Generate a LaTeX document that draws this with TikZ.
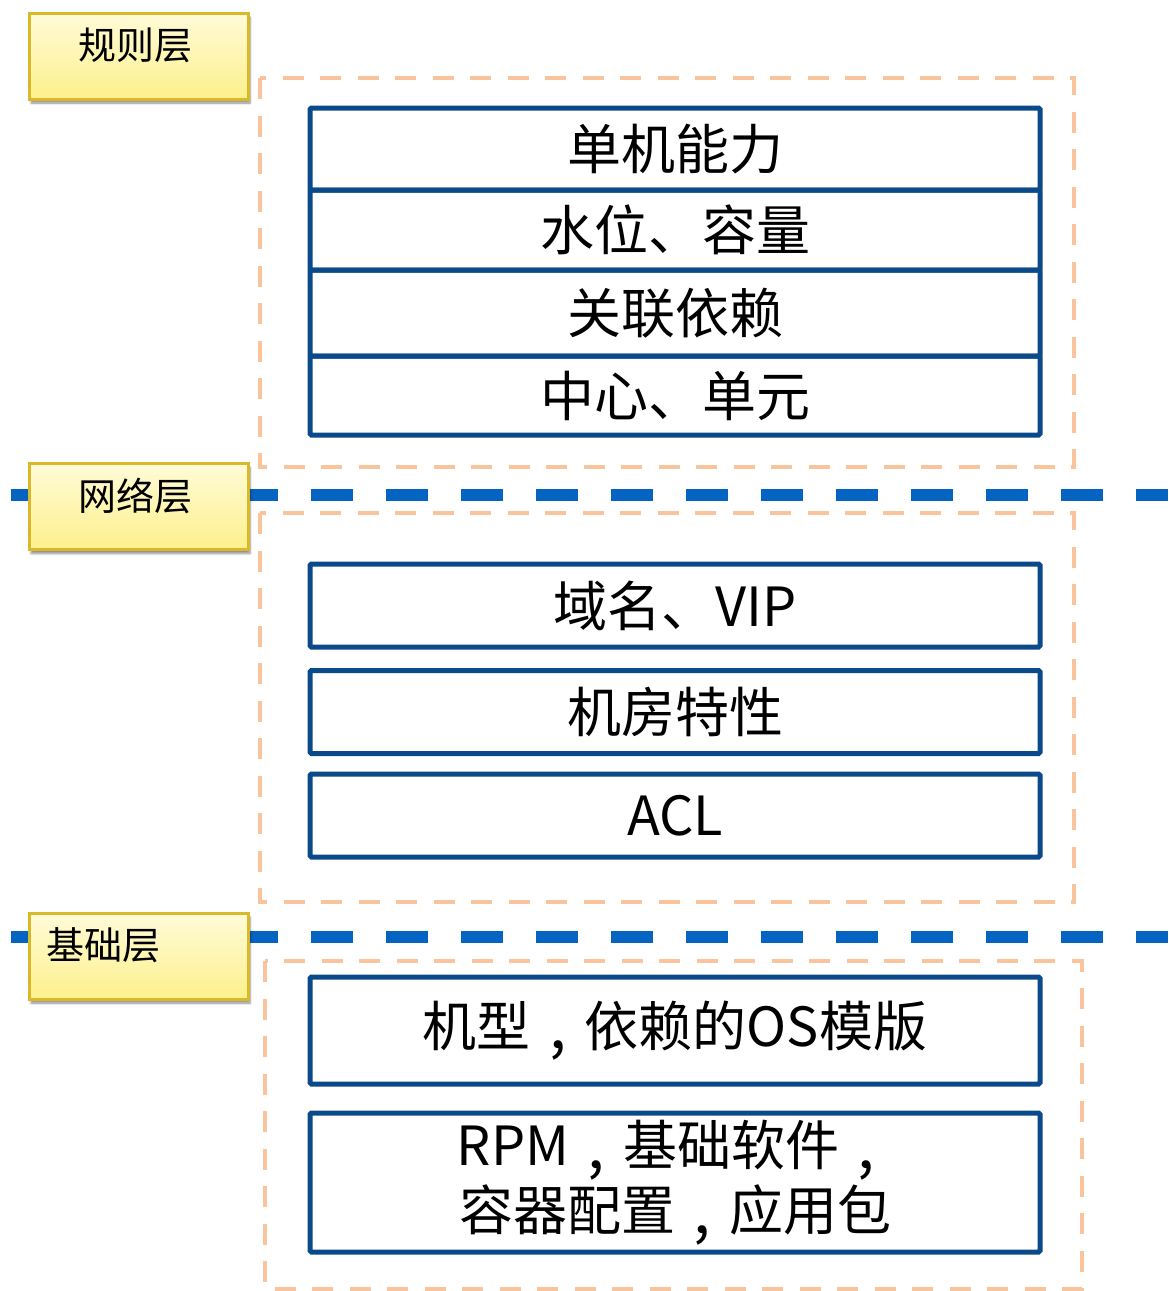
\documentclass[tikz,border=0pt]{standalone}
\usepackage{fontspec}
\setmainfont{Noto Sans CJK SC}
\usetikzlibrary{shadows.blur}
\definecolor{boxblue}{HTML}{0B4A8A}
\definecolor{lineblue}{HTML}{0563C1}
\definecolor{orangedash}{HTML}{F9C49C}
\definecolor{goldline}{HTML}{D9B92A}
\definecolor{ytop}{HTML}{FFFBD8}
\definecolor{ybot}{HTML}{FDF08C}
\newcommand\fwcomma{\makebox[1em][c]{\raisebox{-0.05em}{\scalebox{1.15}{,}}}}
\tikzset{
  layerbox/.style={draw=goldline, line width=3pt, top color=ytop, bottom color=ybot,
    minimum width=219pt, minimum height=86pt, inner sep=0pt, outer sep=0pt,
    blur shadow={shadow xshift=2pt, shadow yshift=-4pt, shadow blur steps=6, shadow opacity=45}},
  layertext/.style={font=\fontsize{38}{42}\selectfont, inner sep=0pt},
  itembox/.style={draw=boxblue, line width=5pt, rounded corners=1.5pt, minimum width=730pt,
    inner sep=0pt, outer sep=0pt, font=\fontsize{54}{65}\selectfont, align=center},
  groupbox/.style={draw=orangedash, line width=4.5pt, dash pattern=on 21pt off 16.5pt},
  sepline/.style={draw=lineblue, line width=11.5pt, dash pattern=on 42pt off 33pt}
}
\begin{document}
\begin{tikzpicture}[x=1pt,y=-1pt]
\useasboundingbox (0,0) rectangle (1168,1291);
% orange dashed group frames
\draw[groupbox] (260,78) rectangle (1074,467);
\draw[groupbox] (260,513) rectangle (1074,902);
\draw[groupbox] (265,961) rectangle (1082,1289);
% blue separator lines
\coordinate (s1a) at (11,495); \coordinate (s1b) at (1168,495);
\coordinate (s2a) at (11,937); \coordinate (s2b) at (1168,937);
\draw[sepline] (s1a) -- (s1b);
\draw[sepline] (s2a) -- (s2b);
% layer labels
\node[layerbox] (l1) at (138.5,56) {};
\node[layertext] (t1) at (135,45) {规则层};
\node[layerbox] (l2) at (138.5,506.5) {};
\node[layertext] (t2) at (135,496) {网络层};
\node[layerbox] (l3) at (138.5,956) {};
\node[layertext] (t3) at (103,945) {基础层};
% rule layer items
\node[itembox, minimum height=82pt] (r1) at (675,149) {单机能力};
\node[itembox, minimum height=80pt] (r2) at (675,230) {水位、容量};
\node[itembox, minimum height=86pt] (r3) at (675,313) {关联依赖};
\node[itembox, minimum height=79pt] (r4) at (675,395.5) {中心、单元};
% network layer items
\node[itembox, minimum height=83pt] (n1) at (675,605.5) {域名、VIP};
\node[itembox, minimum height=83pt] (n2) at (675,712) {机房特性};
\node[itembox, minimum height=83pt] (n3) at (675,815.5) {ACL};
% base layer items
\node[itembox, minimum height=107pt] (b1) at (675,1030.5) {机型\fwcomma 依赖的OS模版};
\node[itembox, minimum height=139pt] (b2) at (675,1182.5) {RPM\fwcomma 基础软件\fwcomma\\容器配置\fwcomma 应用包};
\end{tikzpicture}
\end{document}
